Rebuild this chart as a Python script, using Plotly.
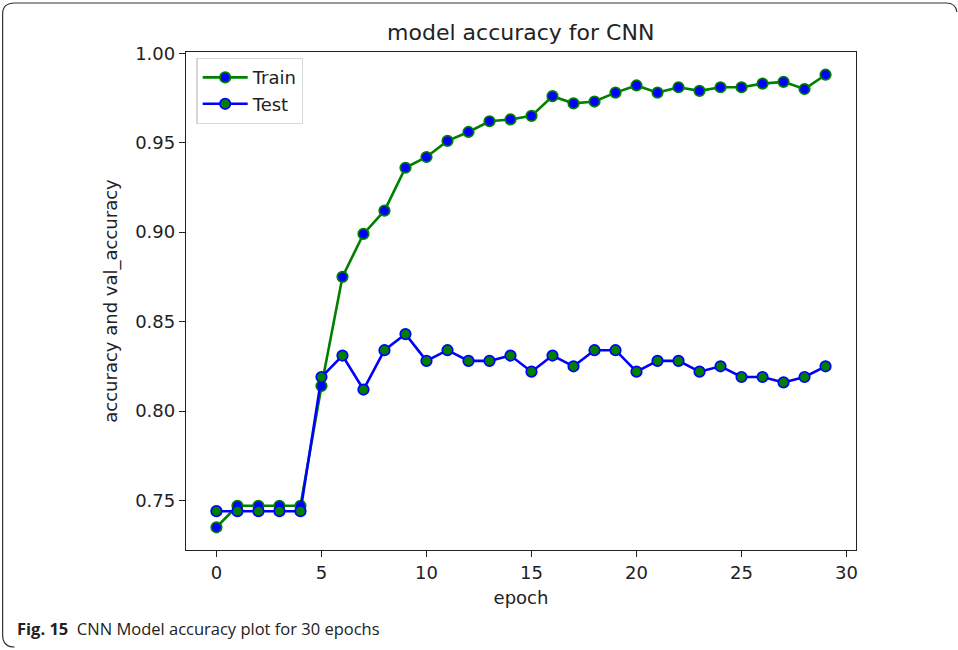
import plotly.graph_objects as go

epochs = list(range(30))
train_acc = [0.735, 0.747, 0.747, 0.747, 0.747, 0.814, 0.875, 0.899, 0.912, 0.936,
             0.942, 0.951, 0.956, 0.962, 0.963, 0.965, 0.976, 0.972, 0.973, 0.978,
             0.982, 0.978, 0.981, 0.979, 0.981, 0.981, 0.983, 0.984, 0.980, 0.988]
test_acc = [0.744, 0.744, 0.744, 0.744, 0.744, 0.819, 0.831, 0.812, 0.834, 0.843,
            0.828, 0.834, 0.828, 0.828, 0.831, 0.822, 0.831, 0.825, 0.834, 0.834,
            0.822, 0.828, 0.828, 0.822, 0.825, 0.819, 0.819, 0.816, 0.819, 0.825]
series_names = ["Train", "Test"]
x_ticks = [0, 5, 10, 15, 20, 25, 30]
y_ticks = [0.75, 0.80, 0.85, 0.90, 0.95, 1.00]

W, H = 958, 650
L, R, T, B = 185.5, 856.0, 52.0, 550.0
PW, PH = R - L, B - T


def px(xp, yp):
    return (xp - L) / PW, (B - yp) / PH


def pt(xp, yp):
    a, b = px(xp, yp)
    return f"{a:.5f},{b:.5f}"


FONT = "DejaVu Sans"
GREEN = "#008000"
BLUE = "#0000ff"

fig = go.Figure()
fig.add_trace(go.Scatter(
    x=epochs, y=train_acc, name=series_names[0], mode="lines+markers",
    line=dict(color=GREEN, width=2.6),
    marker=dict(color=BLUE, size=10.5, line=dict(color=GREEN, width=1.7)),
))
fig.add_trace(go.Scatter(
    x=epochs, y=test_acc, name=series_names[1], mode="lines+markers",
    line=dict(color=BLUE, width=2.6),
    marker=dict(color=GREEN, size=10.5, line=dict(color=BLUE, width=1.7)),
))

axis_common = dict(
    showline=True, mirror=True, linecolor="#222222", linewidth=1.3,
    ticks="outside", ticklen=6, tickwidth=1.3, tickcolor="#222222",
    showgrid=False, zeroline=False,
    tickfont=dict(family=FONT, size=18, color="#222222"),
)

fig.update_xaxes(range=[-1.45, 30.45], tickvals=x_ticks,
                 title=dict(text="epoch", font=dict(family=FONT, size=18, color="#222222"), standoff=9),
                 **axis_common)
fig.update_yaxes(range=[0.7223, 1.0007], tickvals=y_ticks, tickformat=".2f",
                 title=dict(text="accuracy and val_accuracy", font=dict(family=FONT, size=18, color="#222222"), standoff=12),
                 **axis_common)

border_path = ("M " + pt(14, 647) + " Q " + pt(2, 647) + " " + pt(2, 635) +
               " L " + pt(2, 14) + " Q " + pt(2, 3) + " " + pt(14, 3) +
               " L " + pt(946, 3) + " Q " + pt(956, 3) + " " + pt(957, 12))

lx, ly = px(196, 58)
cx, cy = px(14, 628)

fig.update_layout(
    width=W, height=H,
    margin=dict(l=L, r=W - R, t=T, b=H - B, autoexpand=False),
    paper_bgcolor="white", plot_bgcolor="white",
    title=dict(text="model accuracy for CNN", x=(L + R) / 2 / W, xanchor="center",
               y=1 - 32 / H, yanchor="middle", yref="container",
               font=dict(family=FONT, size=22, color="#222222")),
    legend=dict(x=lx, y=ly, xanchor="left", yanchor="top",
                bgcolor="rgba(255,255,255,0.9)", bordercolor="#d6d6d6", borderwidth=1.2,
                font=dict(family=FONT, size=18, color="#222222"),
                itemwidth=45, tracegroupgap=0),
    showlegend=True,
    shapes=[dict(type="path", path=border_path, xref="paper", yref="paper",
                 line=dict(color="#333333", width=1.2))],
    annotations=[dict(text="<b>Fig. 15</b>  CNN Model accuracy plot for 30 epochs",
                      x=cx, y=cy, xref="paper", yref="paper", xanchor="left", yanchor="middle",
                      showarrow=False, font=dict(family="Open Sans", size=16.5, color="#222222"))],
)

fig.write_html("out.html")
